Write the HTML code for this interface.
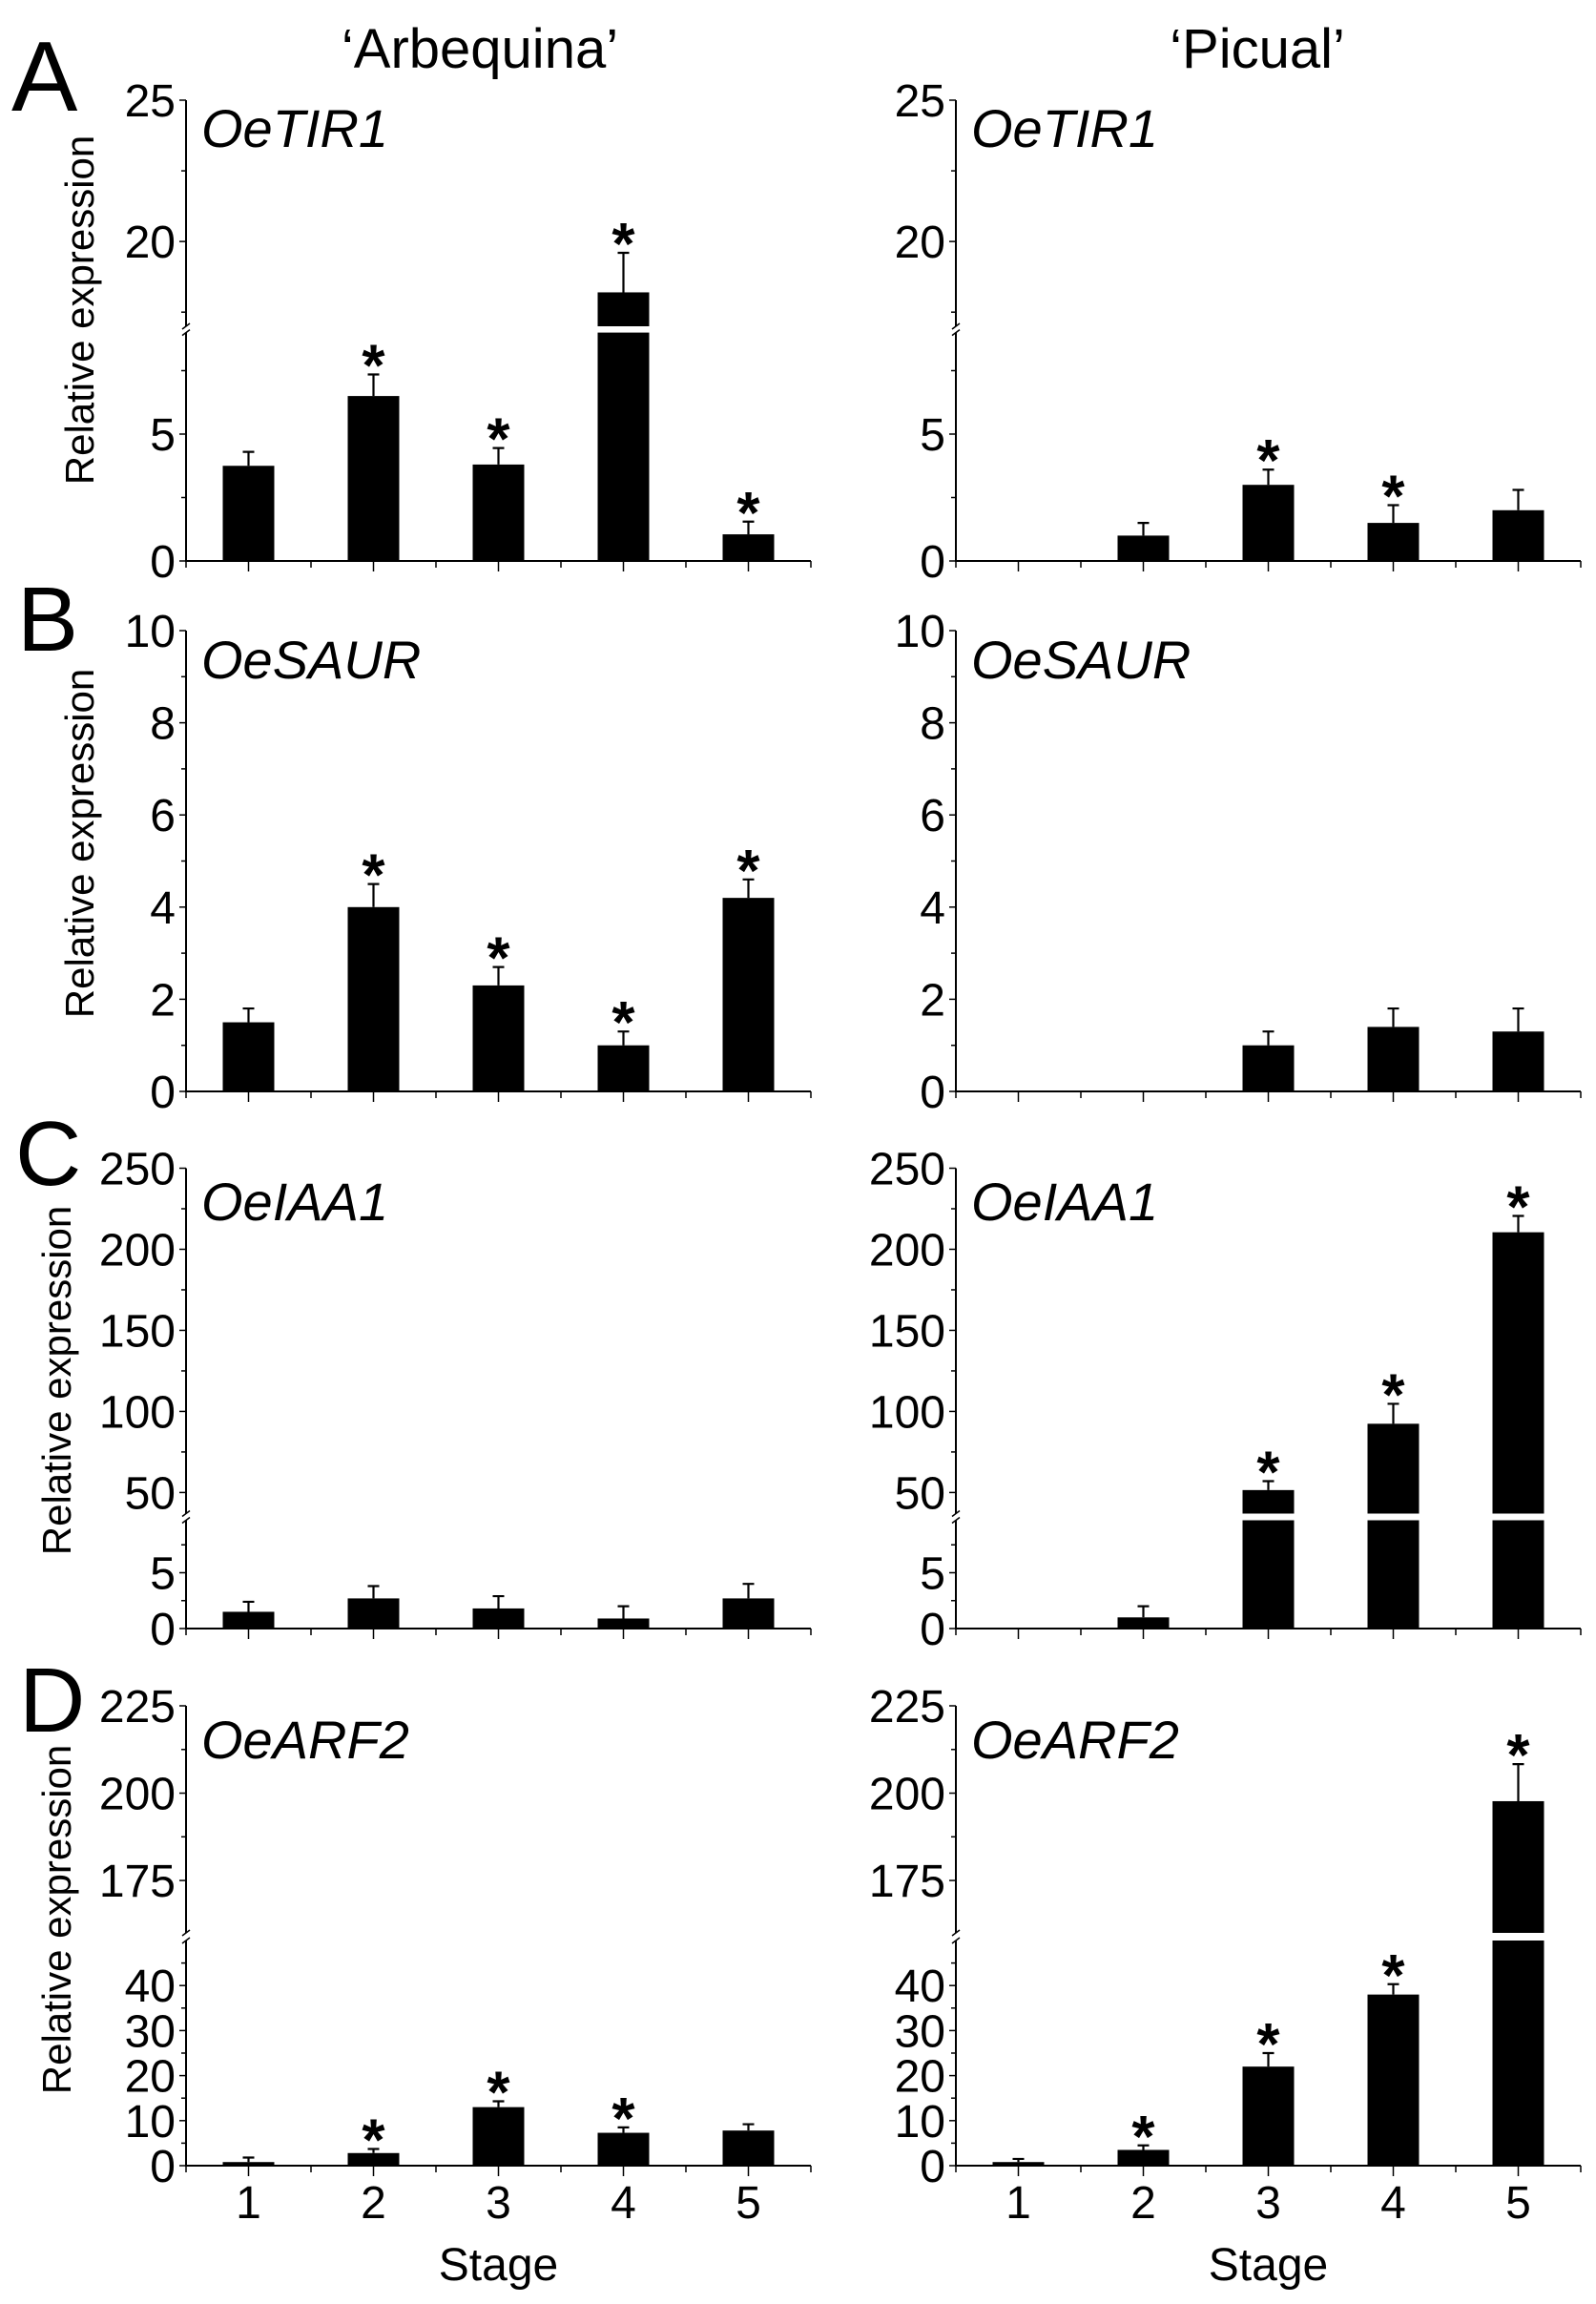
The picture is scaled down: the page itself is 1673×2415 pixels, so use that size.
<!DOCTYPE html>
<html><head><meta charset="utf-8">
<style>
html,body{margin:0;padding:0;background:#fff;}
svg{display:block;font-family:"Liberation Sans",Arial,sans-serif;}
</style></head>
<body>
<svg id="fig" width="1673" height="2415" viewBox="0 0 1673 2415" xmlns="http://www.w3.org/2000/svg">
<rect width="1673" height="2415" fill="#fff"/>
<text x="503" y="71" font-size="58" text-anchor="middle">‘Arbequina’</text>
<text x="1318" y="71" font-size="58" text-anchor="middle">‘Picual’</text>
<text x="12" y="116" font-size="104">A</text>
<text x="18" y="682" font-size="96">B</text>
<text x="16" y="1242" font-size="96">C</text>
<text x="20" y="1815" font-size="96">D</text>
<g id="plots"></g>
</svg>
<script>
// ---- data arrays ----
const stages = [1, 2, 3, 4, 5];
const tir1Arb = [3.75, 6.5, 3.8, 18.2, 1.05];
const tir1ArbErr = [4.3, 7.35, 4.45, 19.6, 1.55];
const tir1ArbSig = [0, 1, 1, 1, 1];
const tir1Pic = [null, 1.0, 3.0, 1.5, 2.0];
const tir1PicErr = [null, 1.5, 3.6, 2.2, 2.8];
const tir1PicSig = [0, 0, 1, 1, 0];
const saurArb = [1.5, 4.0, 2.3, 1.0, 4.2];
const saurArbErr = [1.8, 4.5, 2.7, 1.3, 4.6];
const saurArbSig = [0, 1, 1, 1, 1];
const saurPic = [null, null, 1.0, 1.4, 1.3];
const saurPicErr = [null, null, 1.3, 1.8, 1.8];
const saurPicSig = [0, 0, 0, 0, 0];
const iaaArb = [1.5, 2.7, 1.8, 0.9, 2.7];
const iaaArbErr = [2.4, 3.8, 2.9, 2.0, 4.0];
const iaaArbSig = [0, 0, 0, 0, 0];
const iaaPic = [null, 1.0, 51.5, 92.4, 210.5];
const iaaPicErr = [null, 2.0, 57, 104.7, 220.6];
const iaaPicSig = [0, 0, 1, 1, 1];
const arfArb = [0.8, 2.8, 13, 7.3, 7.8];
const arfArbErr = [1.8, 3.7, 14.3, 8.5, 9.2];
const arfArbSig = [0, 1, 1, 1, 0];
const arfPic = [0.8, 3.5, 22, 38, 197.7];
const arfPicErr = [1.5, 4.5, 25, 40.3, 208.3];
const arfPicSig = [0, 1, 1, 1, 1];
const ticksA = [0, 5, 20, 25];
const minorA = [2.5, 7.5, 17.5, 22.5];
const ticksB = [0, 2, 4, 6, 8, 10];
const minorB = [1, 3, 5, 7, 9];
const ticksC = [0, 5, 50, 100, 150, 200, 250];
const minorC = [2.5, 7.5, 75, 125, 175, 225];
const ticksD = [0, 10, 20, 30, 40, 175, 200, 225];
const minorD = [5, 15, 25, 35, 45, 187.5, 212.5];

// ---- layout ----
const NS = "http://www.w3.org/2000/svg";
const root = document.getElementById('plots');
function mk(tag, attrs, parent) {
  const e = document.createElementNS(NS, tag);
  for (const k in attrs) e.setAttribute(k, attrs[k]);
  (parent || root).appendChild(e);
  return e;
}
const axesX = [195, 1002];
const unitX = 131;
const rows = [
  {key:'a', gene:'OeTIR1', lower:{min:0,max:9,y0:588,y1:348.6}, upper:{min:17,max:25,y0:342,y1:105}, ticks:ticksA, minor:minorA, geneY:154,
    series:[[tir1Arb,tir1ArbErr,tir1ArbSig],[tir1Pic,tir1PicErr,tir1PicSig]], ylabY:325, ylabX:83},
  {key:'b', gene:'OeSAUR', lower:{min:0,max:10,y0:1144,y1:661}, upper:null, ticks:ticksB, minor:minorB, geneY:711,
    series:[[saurArb,saurArbErr,saurArbSig],[saurPic,saurPicErr,saurPicSig]], ylabY:884, ylabX:83},
  {key:'c', gene:'OeIAA1', lower:{min:0,max:9.7,y0:1707,y1:1593.5}, upper:{min:37,max:250,y0:1586.5,y1:1224.5}, ticks:ticksC, minor:minorC, geneY:1279,
    series:[[iaaArb,iaaArbErr,iaaArbSig],[iaaPic,iaaPicErr,iaaPicSig]], ylabY:1447, ylabX:59},
  {key:'d', gene:'OeARF2', lower:{min:0,max:50,y0:2270,y1:2034}, upper:{min:160,max:225,y0:2026,y1:1788}, ticks:ticksD, minor:minorD, geneY:1843,
    series:[[arfArb,arfArbErr,arfArbSig],[arfPic,arfPicErr,arfPicSig]], ylabY:2012, ylabX:59, xlabels:true}
];
function segY(s, v){ return s.y0 + (v - s.min) * (s.y1 - s.y0) / (s.max - s.min); }
function yOf(r, v){
  if (!r.upper || v <= r.lower.max) return segY(r.lower, Math.min(v, r.lower.max));
  if (v < r.upper.min) return r.upper.y0;
  return segY(r.upper, v);
}
function xOf(ax, stage){ return ax + (stage - 0.5) * unitX; }

rows.forEach(r => {
  const names = ['arbequina','picual'];
  axesX.forEach((ax, ci) => {
    const g = mk('g', {});
    
    
    const [vals, errs, sig] = r.series[ci];
    const yTop = r.upper ? r.upper.y1 : r.lower.y1;
    const y0 = r.lower.y0;
    const xEnd = xOf(ax, 5.5);
    if (r.upper) {
      const ya = mk('line', {x1:ax,y1:yTop,x2:ax,y2:r.upper.y0,stroke:'#000','stroke-width':2}, g);
      
      
      const yb = mk('line', {x1:ax,y1:r.lower.y1,x2:ax,y2:y0,stroke:'#000','stroke-width':2}, g);
      
      
      const bk = mk('path', {d:`M${ax-4},${r.upper.y0+3} L${ax+4},${r.upper.y0-3} M${ax-4},${r.lower.y1+3} L${ax+4},${r.lower.y1-3}`, stroke:'#000','stroke-width':1.5, fill:'none'}, g);
      
      
    } else {
      const ya = mk('line', {x1:ax,y1:yTop,x2:ax,y2:y0,stroke:'#000','stroke-width':2}, g);
      
      
    }
    const xa = mk('line', {x1:ax-1,y1:y0,x2:xEnd,y2:y0,stroke:'#000','stroke-width':2}, g);
    
    
    for (let s = 0.5; s <= 5.51; s += 0.5) {
      const major = Number.isInteger(s);
      const t = mk('line', {x1:xOf(ax,s),y1:y0,x2:xOf(ax,s),y2:y0+(major?11:7),stroke:'#000','stroke-width':1.5}, g);
      
      
    }
    if (r.xlabels) {
      stages.forEach(st => {
        const tl = mk('text', {x:xOf(ax,st), y:y0+55, 'font-size':48, 'text-anchor':'middle'}, g);
        tl.textContent = st;
        
        
      });
      const xt = mk('text', {x:xOf(ax,3), y:y0+120, 'font-size':48, 'text-anchor':'middle'}, g);
      xt.textContent = 'Stage';
      
      
    }
    r.ticks.forEach(v => {
      const y = yOf(r, v);
      const t = mk('line', {x1:ax-7,y1:y,x2:ax,y2:y,stroke:'#000','stroke-width':1.5}, g);
      
      
      const tl = mk('text', {x:ax-11, y:y+17, 'font-size':48, 'text-anchor':'end'}, g);
      tl.textContent = v;
      
      
    });
    r.minor.forEach(v => {
      const y = yOf(r, v);
      const t = mk('line', {x1:ax-5,y1:y,x2:ax,y2:y,stroke:'#000','stroke-width':1.5}, g);
      
      
    });
    const gl = mk('text', {x:ax+16, y:r.geneY, 'font-size':56, 'font-style':'italic'}, g);
    gl.textContent = r.gene;
    
    
    if (ci === 0) {
      const yt = mk('text', {x:0, y:0, 'font-size':42, 'text-anchor':'middle', transform:`translate(${r.ylabX + 15},${r.ylabY}) rotate(-90)`}, g);
      yt.textContent = 'Relative expression';
      
      
    }
    stages.forEach((st, i) => {
      const v = vals[i];
      if (v === null || v === undefined) return;
      const cx = xOf(ax, st), w = 54;
      if (r.upper && v > r.lower.max) {
        const b1 = mk('rect', {x:cx-w/2, y:r.lower.y1, width:w, height:y0-r.lower.y1, fill:'#000'}, g);
        
        
        const yt = yOf(r, v);
        const b2 = mk('rect', {x:cx-w/2, y:yt, width:w, height:Math.max(0, r.upper.y0-yt), fill:'#000'}, g);
        
        
      } else {
        const yt = yOf(r, v);
        const b = mk('rect', {x:cx-w/2, y:yt, width:w, height:y0-yt, fill:'#000'}, g);
        
        
      }
      const e = errs[i];
      const yv = yOf(r, v), ye = yOf(r, e);
      const el = mk('path', {d:`M${cx},${yv} L${cx},${ye} M${cx-6},${ye} L${cx+6},${ye}`, stroke:'#000','stroke-width':2.2, fill:'none'}, g);
      
      
      if (sig[i]) {
        const a = mk('text', {x:cx, y:ye+12, 'font-size':62, 'font-weight':'bold', 'text-anchor':'middle'}, g);
        a.textContent = '*';
        
        
      }
    });
  });
});
</script>
</body></html>
